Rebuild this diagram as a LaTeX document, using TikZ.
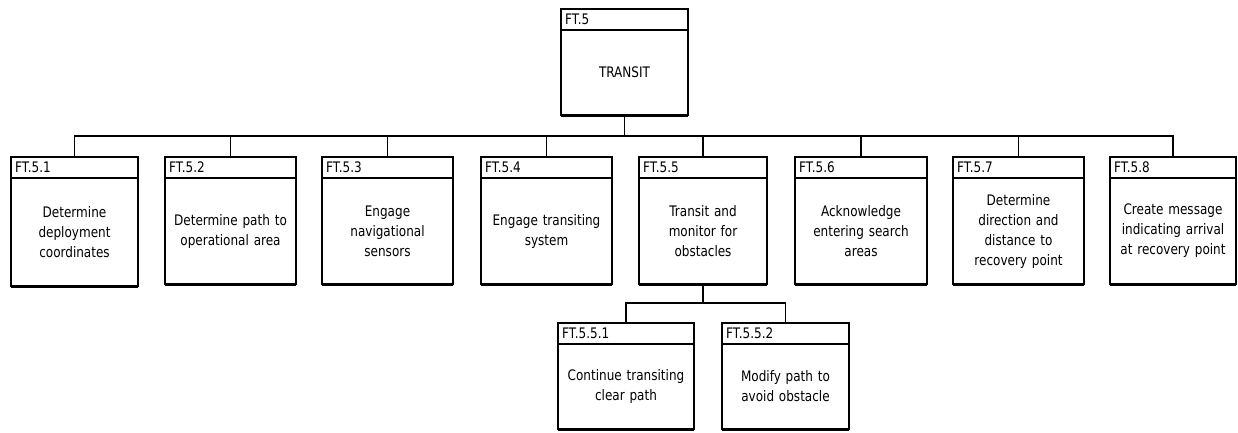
\documentclass[tikz,border=0pt]{standalone}
\usepackage{fontspec}
\setmainfont{DejaVu Sans}[FakeStretch=0.83]
\begin{document}
\begin{tikzpicture}[x=1pt,y=1pt,
  ftbox/.style={draw=black, line width=1.2pt, fill=white, inner sep=0pt, outer sep=0pt, anchor=north west},
  lbl/.style={anchor=west, inner sep=0pt, font=\fontsize{14.5}{16}\selectfont},
  body/.style={align=center, inner sep=0pt, text width=124pt, font=\fontsize{14.5}{20}\selectfont},
  conn/.style={draw=black, line width=1.2pt},
  heavy/.style={line width=2.4pt}]
\useasboundingbox (0,0) rectangle (1238,432);
\newcommand\ftnode[7]{%
  \node[ftbox, minimum width={#3-#2}, minimum height={#5-#4}] (#1) at (#2,432-#4) {};
  \draw[line width=1.2pt] ([yshift=-21pt]#1.north west) -- ([yshift=-21pt]#1.north east);
  \draw[heavy] ([yshift=-0.8pt]#1.south west) -- ([yshift=-0.8pt]#1.south east);
  \node[lbl] (#1-l) at ([xshift=4pt,yshift=-10.5pt]#1.north west) {#6};
  \node[body] (#1-t) at ([yshift=-10.5pt]#1.center) {#7};
}
\ftnode{T}{561}{688}{9}{115}{FT.5}{TRANSIT}
\ftnode{b1}{11}{138}{157}{286}{FT.5.1}{Determine\\deployment\\coordinates}
\ftnode{b2}{165}{296}{157}{284}{FT.5.2}{Determine path to\\operational area}
\ftnode{b3}{322}{453}{157}{284}{FT.5.3}{Engage\\navigational\\sensors}
\ftnode{b4}{481}{612}{157}{284}{FT.5.4}{Engage transiting\\system}
\ftnode{b5}{639}{767}{157}{284}{FT.5.5}{Transit and\\monitor for\\obstacles}
\ftnode{b6}{795}{927}{157}{284}{FT.5.6}{Acknowledge\\entering search\\areas}
\ftnode{b7}{953}{1084}{157}{284}{FT.5.7}{Determine\\direction and\\distance to\\recovery point}
\ftnode{b8}{1110}{1236}{157}{284}{FT.5.8}{Create message\\indicating arrival\\at recovery point}
\ftnode{s1}{558}{694}{323}{429}{FT.5.5.1}{Continue transiting\\clear path}
\ftnode{s2}{722}{849}{323}{429}{FT.5.5.2}{Modify path to\\avoid obstacle}
\foreach \c in {b1,b2,b3,b4,b5,b6,b7,b8}{
  \draw[conn] (\c.north) -- ++(0,21) -| ([yshift=-1pt]T.south);
}
\foreach \c in {s1,s2}{
  \draw[conn] (\c.north) -- ++(0,20) -| ([yshift=-1pt]b5.south);
}
\end{tikzpicture}
\end{document}
